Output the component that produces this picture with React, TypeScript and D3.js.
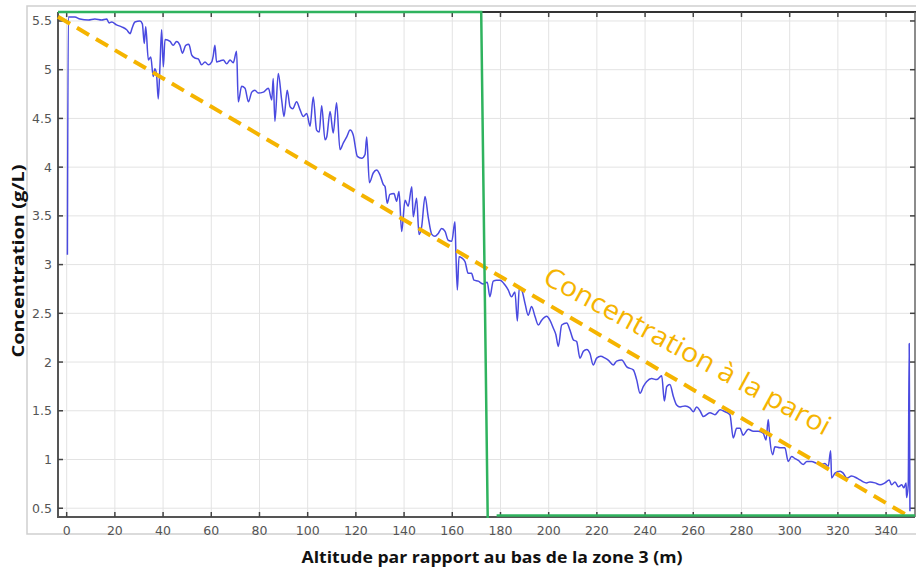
import React from "react";
import * as d3 from "d3";

// ---- Data ----
const altitude = [0.3,0.7,1.4,3.4,5.5,9.0,11.7,14.5,16.6,17.6,18.7,20.7,22.8,24.9,26.3,27.2,28.3,30.4,31.4,32.2,32.8,33.9,34.9,35.9,36.6,37.3,38.0,38.7,39.4,40.1,40.8,42.9,44.2,45.6,47.0,48.0,49.4,50.7,51.9,53.2,54.6,56.0,57.4,58.8,60.2,60.8,61.5,62.2,63.6,65.0,66.4,67.8,69.1,70.5,71.2,72.6,74.0,75.4,76.8,78.1,79.5,81.6,83.7,85.1,85.7,86.4,87.8,89.2,90.2,91.5,92.7,93.8,95.4,96.8,98.2,99.6,101.0,102.3,103.7,104.8,105.8,107.2,107.9,109.3,110.6,112.0,113.4,114.8,116.2,117.6,118.9,120.6,122.4,123.8,124.5,125.6,127.2,128.6,130.0,131.4,132.1,133.0,134.1,135.8,136.9,137.9,139.0,140.4,141.7,143.2,143.8,145.2,146.2,147.3,148.7,150.0,151.5,152.8,154.2,155.6,157.0,158.3,159.8,161.1,161.5,162.1,162.8,163.9,165.3,166.6,168.0,169.0,170.8,172.9,174.5,175.6,177.0,178.4,179.8,181.9,183.2,184.6,186.0,187.0,187.8,188.8,190.2,191.5,192.9,194.3,195.7,197.1,199.2,200.5,201.9,203.0,204.0,205.4,207.5,208.8,210.2,211.6,213.0,214.4,215.8,217.1,218.5,219.9,221.6,223.4,224.7,226.8,228.2,230.3,232.4,235.1,236.5,237.9,239.3,240.7,242.7,244.8,246.9,248.0,249.0,250.3,251.7,253.1,254.5,256.6,258.6,260.0,261.4,262.8,264.2,266.9,269.0,271.1,273.2,275.2,276.6,278.0,279.4,280.7,282.8,284.9,287.0,289.0,290.2,291.1,291.8,292.9,293.9,296.0,298.0,299.4,300.8,302.2,303.6,305.6,307.1,309.1,311.2,313.3,314.6,316.0,317.0,317.4,318.8,320.9,322.2,323.7,325.7,327.8,329.2,330.5,331.9,333.3,335.4,337.5,339.5,341.3,342.3,343.7,345.1,346.5,347.4,348.3,348.5,349.2,349.6,349.9];
const concentration = [3.10,5.54,5.54,5.54,5.52,5.51,5.52,5.51,5.52,5.48,5.49,5.46,5.44,5.41,5.37,5.43,5.49,5.50,5.47,5.27,5.44,5.10,5.13,4.93,5.01,4.95,4.70,5.03,5.41,5.03,5.31,5.29,5.25,5.29,5.25,5.17,5.25,5.26,5.15,5.12,5.11,5.05,5.08,5.05,5.08,5.14,5.25,5.08,5.09,5.10,5.06,5.10,5.07,5.19,4.67,4.83,4.81,4.67,4.77,4.79,4.76,4.77,4.81,4.69,4.91,4.47,4.96,4.69,4.52,4.79,4.62,4.60,4.67,4.59,4.52,4.55,4.42,4.72,4.38,4.36,4.63,4.28,4.31,4.57,4.35,4.66,4.18,4.25,4.31,4.38,4.33,4.11,4.09,4.13,4.31,3.84,3.94,3.97,3.92,3.82,3.80,3.63,3.72,3.73,3.65,3.75,3.34,3.66,3.60,3.80,3.49,3.68,3.31,3.39,3.70,3.49,3.31,3.29,3.32,3.37,3.34,3.25,3.24,3.44,3.12,2.74,3.08,3.07,3.03,2.91,2.91,2.84,2.83,2.80,2.82,2.67,2.83,2.84,2.84,2.79,2.74,2.67,2.72,2.42,2.76,2.74,2.60,2.48,2.57,2.47,2.38,2.43,2.47,2.43,2.35,2.28,2.16,2.38,2.40,2.33,2.23,2.21,2.04,2.11,2.13,2.09,1.97,2.04,2.06,2.04,2.02,1.97,2.01,2.02,1.95,1.92,1.82,1.68,1.75,1.80,1.83,1.82,1.86,1.60,1.75,1.77,1.65,1.56,1.54,1.55,1.53,1.49,1.54,1.50,1.44,1.48,1.46,1.51,1.49,1.46,1.22,1.32,1.32,1.25,1.31,1.29,1.29,1.27,1.20,1.41,1.20,1.05,1.13,1.12,1.12,0.98,1.03,1.01,0.99,0.95,0.98,0.98,0.96,0.95,0.96,0.93,1.09,0.81,0.86,0.88,0.86,0.81,0.83,0.81,0.79,0.77,0.76,0.77,0.76,0.74,0.76,0.79,0.74,0.77,0.72,0.74,0.71,0.76,0.61,0.74,2.19,0.47];

const greenUpperX = [-3.6, 172.0, 174.7];
const greenUpperY = [5.592, 5.592, 0.40];
const greenLowerX = [178.4, 352.0];
const greenLowerY = [0.425, 0.425];

const wallX = [-3.6, 348.5];
const wallY = [5.544, 0.43];

const xTickValues = [0, 20, 40, 60, 80, 100, 120, 140, 160, 180, 200, 220, 240, 260, 280, 300, 320, 340];
const yTickValues = [0.5, 1, 1.5, 2, 2.5, 3, 3.5, 4, 4.5, 5, 5.5];
const yTickLabels = ["0.5", "1", "1.5", "2", "2.5", "3", "3.5", "4", "4.5", "5", "5.5"];

const xTitle = "Altitude par rapport au bas de la zone 3 (m)";
const yTitle = "Concentration (g/L)";
const annotation = "Concentration à la paroi";

export default function App() {
  const W = 916, H = 572;
  const L = 58, R = 915, T = 12, B = 517;
  const x = d3.scaleLinear().domain([-3.6, 352]).range([L, R]);
  const y = d3.scaleLinear().domain([0.41, 5.592]).range([B, T]);

  const blue = d3.line<number>().x((d, i) => x(altitude[i])).y((d) => y(d)).curve(d3.curveMonotoneX)(concentration) || "";
  const mk = (xs: number[], ys: number[]) =>
    d3.line<number>().x((d, i) => x(xs[i])).y((d) => y(d))(ys) || "";

  const tickCol = "#555";
  const ann = { x: 688, y: 350 };

  return (
    <svg width={W} height={H} style={{ position: "absolute", left: 0, top: 0, background: "#fff" }}>
      <rect x={0} y={0} width={W} height={H} fill="#fff" />
      {/* panel frame */}
      <rect x={27} y={6} width={900} height={528} fill="none" stroke="#cfcfcf" strokeWidth={1.5} />
      {/* grid */}
      <g stroke="#e3e3e3" strokeWidth={1}>
        {xTickValues.map((v) => (
          <line key={"gx" + v} x1={x(v)} x2={x(v)} y1={T} y2={B} />
        ))}
        {yTickValues.map((v) => (
          <line key={"gy" + v} x1={L} x2={R} y1={y(v)} y2={y(v)} />
        ))}
      </g>
      {/* axes */}
      <g stroke={tickCol} strokeWidth={2}>
        <line x1={L} x2={L} y1={T} y2={B + 1} />
        <line x1={L - 1} x2={R} y1={B} y2={B} />
        <line x1={L} x2={916} y1={T} y2={T} stroke="#333" />
        <line x1={R} x2={R} y1={T} y2={B} stroke="#666" strokeWidth={1.5} />
      </g>
      <g stroke="#444" strokeWidth={1.5}>
        {xTickValues.map((v) => (
          <g key={"tx" + v}>
            <line x1={x(v)} x2={x(v)} y1={B} y2={B - 5} />
            <line x1={x(v)} x2={x(v)} y1={T} y2={T + 5} />
          </g>
        ))}
        {yTickValues.map((v) => (
          <g key={"ty" + v}>
            <line x1={L} x2={L + 5} y1={y(v)} y2={y(v)} />
            <line x1={R} x2={R - 5} y1={y(v)} y2={y(v)} />
          </g>
        ))}
      </g>
      {/* tick labels */}
      <g fontFamily="DejaVu Sans, sans-serif" fontSize={12.5} fill="#555">
        {xTickValues.map((v) => (
          <text key={"lx" + v} x={x(v)} y={535} textAnchor="middle">{String(v)}</text>
        ))}
        {yTickValues.map((v, i) => (
          <text key={"ly" + v} x={52} y={y(v)} textAnchor="end" dominantBaseline="central">{yTickLabels[i]}</text>
        ))}
      </g>
      {/* series */}
      <path d={blue} fill="none" stroke="#4a4ae0" strokeWidth={1.5} strokeLinejoin="round" />
      <path d={mk(wallX, wallY)} fill="none" stroke="#f5b400" strokeWidth={4} strokeDasharray="14 8" />
      <path d={mk(greenUpperX, greenUpperY)} fill="none" stroke="#2fb35e" strokeWidth={2.5} />
      <path d={mk(greenLowerX, greenLowerY)} fill="none" stroke="#2fb35e" strokeWidth={2.5} />
      {/* annotation */}
      <text
        x={ann.x}
        y={ann.y}
        transform={`rotate(28.5, ${ann.x}, ${ann.y})`}
        textAnchor="middle"
        dominantBaseline="central"
        fontFamily="Open Sans, sans-serif"
        fontSize={27}
        fill="#f5b400"
        textLength={322}
        lengthAdjust="spacingAndGlyphs"
      >
        {annotation}
      </text>
      {/* titles */}
      <text
        x={492}
        y={563}
        textAnchor="middle"
        fontFamily="Open Sans, sans-serif"
        fontWeight="bold"
        fontSize={16.5}
        fill="#111"
        textLength={381}
        lengthAdjust="spacingAndGlyphs"
      >
        {xTitle}
      </text>
      <text
        x={0}
        y={0}
        transform={`translate(24, 261) rotate(-90)`}
        textAnchor="middle"
        fontFamily="Open Sans, sans-serif"
        fontWeight="bold"
        fontSize={16}
        fill="#111"
        textLength={193}
        lengthAdjust="spacingAndGlyphs"
      >
        {yTitle}
      </text>
    </svg>
  );
}
